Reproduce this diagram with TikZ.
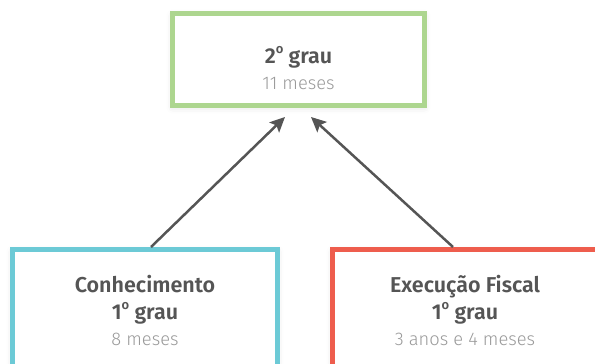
\documentclass[tikz,border=0pt]{standalone}
\usepackage{fontspec}
\setmainfont{Fira Sans}
\newfontfamily\lightfont{Fira Sans Light}
\newfontfamily\medfont{Fira Sans SemiBold}
\usetikzlibrary{arrows.meta,calc,shadows.blur}
\definecolor{boxgreen}{HTML}{ADD68F}
\definecolor{boxcyan}{HTML}{6CCAD6}
\definecolor{boxred}{HTML}{EE5D4D}
\definecolor{textdark}{HTML}{555555}
\definecolor{textlight}{HTML}{9A9A9A}
\definecolor{arrowgray}{HTML}{555555}
% raised o, as the ordinal sign is drawn
\newcommand{\ordo}{\raisebox{0.42em}{\fontsize{13}{13}\selectfont o}}
\tikzset{
  stagebox/.style={draw, line width=5pt, fill=white, inner sep=0pt,
    blur shadow={shadow xshift=0pt, shadow yshift=-2pt, shadow blur radius=6pt, shadow opacity=12}},
  titletext/.style={anchor=base, text=textdark, font=\medfont\fontsize{21.5}{24}\selectfont},
  timetext/.style={anchor=base, text=textlight, font=\lightfont\fontsize{18.3}{22}\selectfont},
  flowarrow/.style={draw=arrowgray, line width=2.5pt, -{Stealth[length=15pt,width=14pt,inset=3pt]}}
}
\begin{document}
\begin{tikzpicture}[x=1pt,y=-1pt]
  \useasboundingbox (0,0) rectangle (595,364);
  \clip (0,0) rectangle (595,364);
  % boxes
  \node[stagebox, draw=boxgreen, minimum width=252pt, minimum height=92pt] (grau2) at (298.5,59.5) {};
  \node[stagebox, draw=boxcyan, minimum width=265pt, minimum height=125pt] (conh) at (145,312) {};
  \node[stagebox, draw=boxred, minimum width=265pt, minimum height=125pt] (exec) at (465,312) {};
  % texts
  \node[titletext] (grau2title) at (298.5,63) {2\ordo{} grau};
  \node[timetext] (grau2time) at (298.5,89.5) {11 meses};
  \node[titletext] (conhtitle) at (145,292.7) {Conhecimento};
  \node[titletext] (conhgrau) at (145,319) {1\ordo{} grau};
  \node[timetext] (conhtime) at (145,345.3) {8 meses};
  \node[titletext] (exectitle) at (465,292.7) {Execução Fiscal};
  \node[titletext] (execgrau) at (465,319) {1\ordo{} grau};
  \node[timetext] (exectime) at (465,345.3) {3 anos e 4 meses};
  % arrows
  \coordinate (tipleft) at ($(grau2.south)+(-13.5,9)$);
  \coordinate (tipright) at ($(grau2.south)+(12.5,9)$);
  \draw[flowarrow] ($(conh.north)+(6,0)$) -- (tipleft);
  \draw[flowarrow] ($(exec.north)+(-12,0)$) -- (tipright);
\end{tikzpicture}
\end{document}
